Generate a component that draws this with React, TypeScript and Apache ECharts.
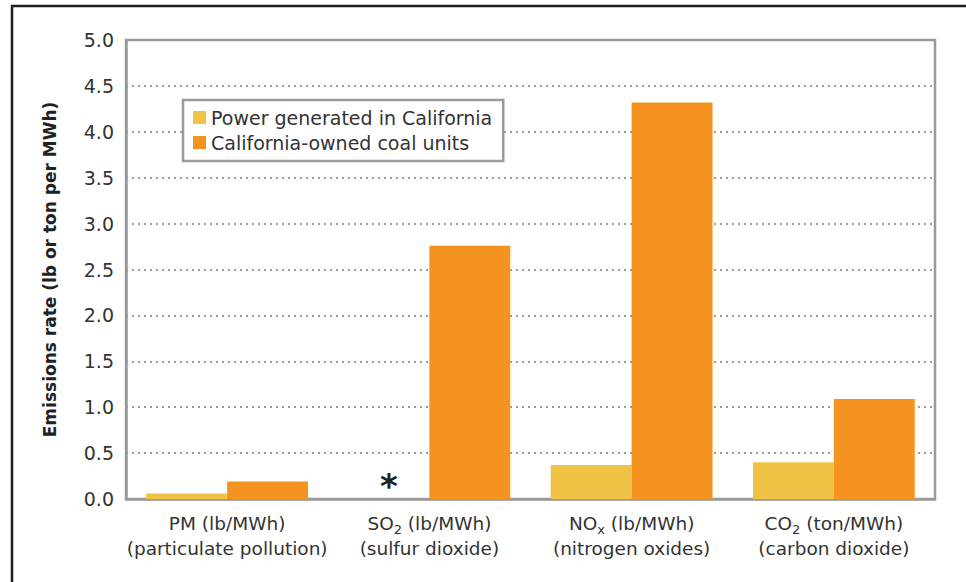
import React, { useEffect, useRef } from "react";
import * as echarts from "echarts";

const categories = [
  "PM (lb/MWh)\n(particulate pollution)",
  "SO{sub|2} (lb/MWh)\n(sulfur dioxide)",
  "NO{sub|x} (lb/MWh)\n(nitrogen oxides)",
  "CO{sub|2} (ton/MWh)\n(carbon dioxide)",
];
const seriesNames = ["Power generated in California", "California-owned coal units"];
const californiaValues = [0.06, 0, 0.37, 0.4];
const coalValues = [0.19, 2.76, 4.32, 1.09];
const notAvailableMark = "*";
const yAxisTitle = "Emissions rate (lb or ton per MWh)";

const FONT = "'DejaVu Sans', sans-serif";
const TEXT = "#333333";

export default function App() {
  const ref = useRef<HTMLDivElement>(null);
  useEffect(() => {
    if (!ref.current) return;
    const chart = echarts.init(ref.current, null, { renderer: "svg" });
    chart.setOption({
      animation: false,
      backgroundColor: "#ffffff",
      textStyle: { fontFamily: FONT },
      graphic: [
        {
          type: "rect",
          shape: { x: 12, y: 6, width: 1200, height: 1000 },
          style: { fill: "none", stroke: "#231f20", lineWidth: 2.5 },
          silent: true,
          z: 100,
        },
      ],
      grid: {
        left: 126,
        right: 31,
        top: 40,
        bottom: 83,
        show: true,
        borderColor: "#9a9a9a",
        borderWidth: 2.5,
        backgroundColor: "transparent",
      },
      legend: {
        orient: "vertical",
        left: 183,
        top: 100,
        data: seriesNames,
        backgroundColor: "#ffffff",
        borderColor: "#9a9a9a",
        borderWidth: 2.5,
        padding: [8, 11, 9, 10],
        itemWidth: 13,
        itemHeight: 13,
        itemGap: 6,
        icon: "rect",
        textStyle: { fontFamily: FONT, fontSize: 19, color: TEXT },
      },
      xAxis: {
        type: "category",
        data: categories,
        axisTick: { show: false },
        axisLine: { lineStyle: { color: "#9a9a9a", width: 2.5 } },
        axisLabel: {
          interval: 0,
          margin: 12,
          color: TEXT,
          fontSize: 18.5,
          lineHeight: 25,
          fontFamily: FONT,
          rich: {
            sub: { fontSize: 13, lineHeight: 16, verticalAlign: "bottom", color: TEXT, fontFamily: FONT },
          },
        },
      },
      yAxis: {
        type: "value",
        min: 0,
        max: 5,
        interval: 0.5,
        name: yAxisTitle,
        nameLocation: "middle",
        nameGap: 68,
        nameTextStyle: { fontSize: 17, fontWeight: "bold", color: "#222", fontFamily: FONT },
        axisLine: { show: true, lineStyle: { color: "#9a9a9a", width: 2.5 } },
        axisTick: { show: false },
        axisLabel: {
          margin: 12,
          fontSize: 19,
          color: TEXT,
          fontFamily: FONT,
          formatter: (v: number) => v.toFixed(1),
        },
        splitLine: {
          show: true,
          lineStyle: { color: "#9a9a9a", width: 2, type: [2, 4] },
        },
      },
      series: [
        {
          name: seriesNames[0],
          type: "bar",
          data: californiaValues.map((v) =>
            v === 0
              ? {
                  value: v,
                  label: {
                    show: true,
                    position: "top",
                    distance: -4,
                    formatter: notAvailableMark,
                    fontSize: 34,
                    fontWeight: "bold",
                    color: "#231f20",
                    fontFamily: FONT,
                  },
                }
              : v
          ),
          itemStyle: { color: "#F0C346" },
          barGap: "0%",
          barCategoryGap: "20%",
        },
        {
          name: seriesNames[1],
          type: "bar",
          data: coalValues,
          itemStyle: { color: "#F59320" },
          barGap: "0%",
          barCategoryGap: "20%",
        },
      ],
    });
    return () => chart.dispose();
  }, []);
  return (
    <div
      ref={ref}
      style={{ position: "fixed", left: 0, top: 0, width: 966, height: 582 }}
    />
  );
}
